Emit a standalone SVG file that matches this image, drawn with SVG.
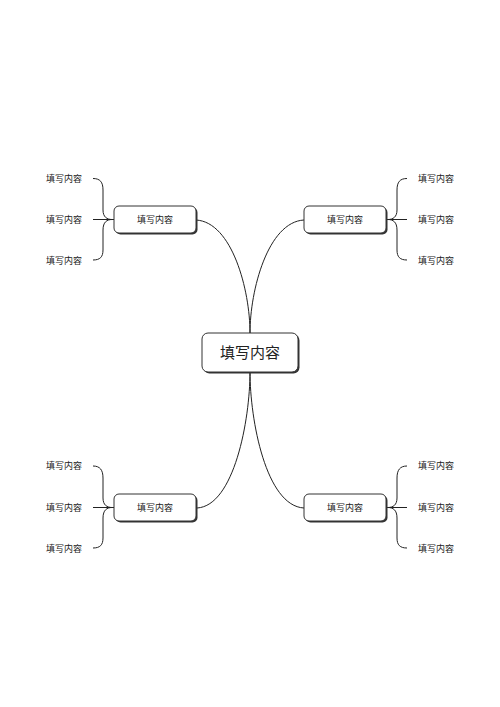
<svg xmlns="http://www.w3.org/2000/svg" width="500" height="707" viewBox="0 0 500 707">
<style>
.box{fill:#fff;stroke:#333;stroke-width:1}
.shadow{fill:#333}
.ln{fill:none;stroke:#222;stroke-width:1}
.t{font-family:"Noto Sans CJK SC","Noto Sans",sans-serif;fill:#222}
.s{font-size:9px}
.c{font-size:15px}
</style>
<rect width="500" height="707" fill="#fff"/>
<g id="connectors">
<path class="ln" d="M196,220 C232,222 250,290 250,333"/>
<path class="ln" d="M304,220 C268,222 250,290 250,333"/>
<path class="ln" d="M250,372 C250,420 234,506 197,508"/>
<path class="ln" d="M250,372 C250,420 266,506 304,508"/>
<path class="ln" d="M93,178.5 C100,178.5 103,182 103,190 L103,210 C103,217 107,219.5 112,219.5 C107,219.5 103,222 103,230 L103,250 C103,257 100,260 93,260 M93,219.5 L114,219.5"/>
<path class="ln" d="M407,178.5 C400,178.5 397,182 397,190 L397,210 C397,217 393,219.5 388,219.5 C393,219.5 397,222 397,230 L397,250 C397,257 400,260 407,260 M407,219.5 L386,219.5"/>
<path class="ln" d="M93,466 C100,466 103,470 103,478 L103,498 C103,505 107,507.5 112,507.5 C107,507.5 103,510 103,518 L103,538 C103,545 100,548 93,548 M93,507.5 L114,507.5"/>
<path class="ln" d="M407,466 C400,466 397,470 397,478 L397,498 C397,505 393,507.5 388,507.5 C393,507.5 397,510 397,518 L397,538 C397,545 400,548 407,548 M407,507.5 L386,507.5"/>
</g>
<g id="center">
<rect class="shadow" x="203.5" y="334.5" width="96" height="39" rx="6"/>
<rect class="box" x="202" y="333" width="96" height="39" rx="6"/>
<text class="t c" x="250" y="358" text-anchor="middle">填写内容</text>
</g>
<g id="node-tl">
<rect class="shadow" x="115.5" y="207.5" width="82" height="27" rx="5"/>
<rect class="box" x="114" y="206" width="82" height="27" rx="5"/>
<text class="t s" x="155" y="223" text-anchor="middle">填写内容</text>
</g>
<g id="node-tr">
<rect class="shadow" x="305.5" y="207.5" width="82" height="27" rx="5"/>
<rect class="box" x="304" y="206" width="82" height="27" rx="5"/>
<text class="t s" x="345" y="223" text-anchor="middle">填写内容</text>
</g>
<g id="node-bl">
<rect class="shadow" x="115.5" y="495.5" width="82" height="27" rx="5"/>
<rect class="box" x="114" y="494" width="82" height="27" rx="5"/>
<text class="t s" x="155" y="511" text-anchor="middle">填写内容</text>
</g>
<g id="node-br">
<rect class="shadow" x="305.5" y="495.5" width="82" height="27" rx="5"/>
<rect class="box" x="304" y="494" width="82" height="27" rx="5"/>
<text class="t s" x="345" y="511" text-anchor="middle">填写内容</text>
</g>
<g id="leaves-tl">
<text class="t s" x="46" y="181.5">填写内容</text>
<text class="t s" x="46" y="223">填写内容</text>
<text class="t s" x="46" y="263.5">填写内容</text>
</g>
<g id="leaves-tr">
<text class="t s" x="418" y="181.5">填写内容</text>
<text class="t s" x="418" y="223">填写内容</text>
<text class="t s" x="418" y="263.5">填写内容</text>
</g>
<g id="leaves-bl">
<text class="t s" x="46" y="469">填写内容</text>
<text class="t s" x="46" y="510.5">填写内容</text>
<text class="t s" x="46" y="551.5">填写内容</text>
</g>
<g id="leaves-br">
<text class="t s" x="418" y="469">填写内容</text>
<text class="t s" x="418" y="510.5">填写内容</text>
<text class="t s" x="418" y="551.5">填写内容</text>
</g>
</svg>
